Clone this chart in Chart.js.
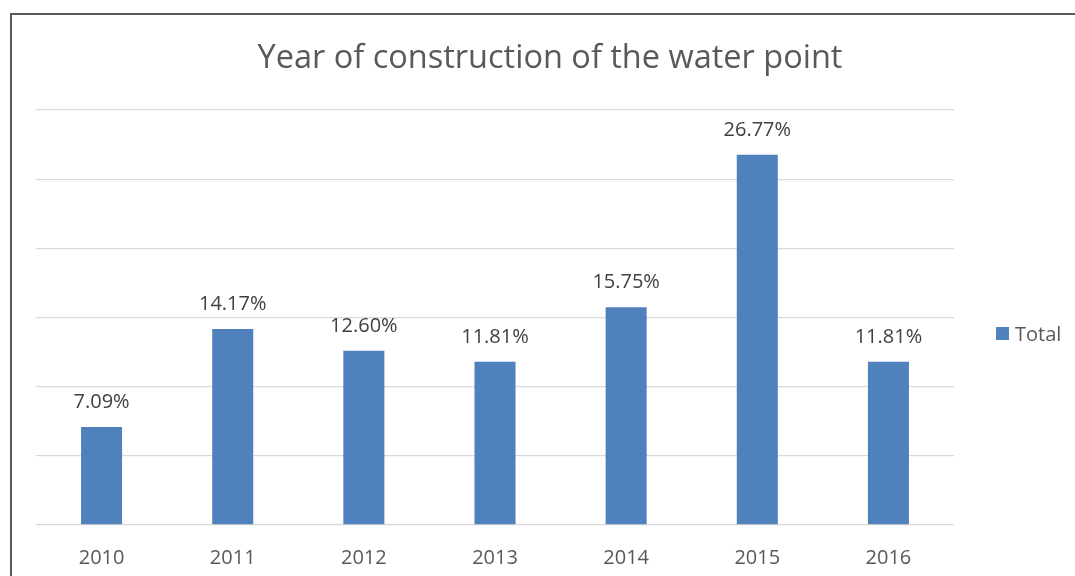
<!DOCTYPE html>
<html>
<head>
<meta charset="utf-8">
<script src="https://cdn.jsdelivr.net/npm/chart.js@4/dist/chart.umd.min.js"></script>
<style>
html,body{margin:0;padding:0;background:#fff;width:1075px;height:576px;overflow:hidden;}
#frame{position:absolute;left:10px;top:13px;width:1100px;height:600px;border-top:2px solid #595959;border-left:2px solid #595959;}
#wrap{position:absolute;left:12px;top:15px;width:1076px;height:561px;}
</style>
</head>
<body>
<div id="frame"></div>
<div id="wrap"><canvas id="c"></canvas></div>
<script>
const categories = ['2010','2011','2012','2013','2014','2015','2016'];
const totalValues = [7.09, 14.17, 12.60, 11.81, 15.75, 26.77, 11.81];
const seriesName = 'Total';
const chartTitle = 'Year of construction of the water point';
const yTicks = [0, 5, 10, 15, 20, 25, 30];

const FONT = "'Open Sans', sans-serif";
const BAR_COLOR = '#4F81BD';

const dataLabels = {
  id: 'dataLabels',
  afterDatasetsDraw(chart) {
    const ctx = chart.ctx;
    ctx.save();
    ctx.font = "20px " + FONT;
    ctx.fillStyle = '#404040';
    ctx.textAlign = 'center';
    ctx.textBaseline = 'alphabetic';
    chart.getDatasetMeta(0).data.forEach((bar, i) => {
      ctx.fillText(totalValues[i].toFixed(2) + '%', bar.x, bar.y - 19);
    });
    ctx.restore();
  }
};

const sideLegend = {
  id: 'sideLegend',
  afterDraw(chart) {
    const ctx = chart.ctx;
    const ds = chart.data.datasets[0];
    ctx.save();
    ctx.fillStyle = ds.backgroundColor;
    ctx.fillRect(984, 312, 13, 13);
    ctx.font = "20px " + FONT;
    ctx.fillStyle = '#595959';
    ctx.textAlign = 'left';
    ctx.textBaseline = 'alphabetic';
    ctx.fillText(ds.label, 1003, 326);
    ctx.restore();
  }
};

new Chart(document.getElementById('c'), {
  type: 'bar',
  data: {
    labels: categories,
    datasets: [{
      label: seriesName,
      data: totalValues,
      backgroundColor: BAR_COLOR,
      borderWidth: 0,
      barPercentage: 0.313,
      categoryPercentage: 1.0
    }]
  },
  options: {
    responsive: true,
    maintainAspectRatio: false,
    animation: false,
    events: [],
    layout: { padding: 0 },
    plugins: {
      legend: { display: false },
      tooltip: { enabled: false },
      title: {
        display: true,
        text: chartTitle,
        color: '#595959',
        font: { family: FONT, size: 32.5, weight: 'normal', lineHeight: 1.2 },
        padding: { top: 24, bottom: 32 }
      }
    },
    scales: {
      x: {
        grid: { display: false, drawTicks: false },
        border: { display: false },
        ticks: { color: '#595959', font: { family: FONT, size: 20 }, padding: 21 },
        afterFit(scale) { scale.height = 51; }
      },
      y: {
        position: 'left',
        min: yTicks[0],
        max: yTicks[yTicks.length - 1],
        afterBuildTicks(scale) { scale.ticks = yTicks.map(v => ({ value: v })); },
        grid: { color: '#D9D9D9', lineWidth: 1.3, drawTicks: false },
        border: { display: false },
        ticks: { display: false },
        afterFit(scale) { scale.width = 24; }
      },
      yRight: {
        position: 'right',
        display: true,
        min: 0,
        max: 1,
        grid: { display: false, drawTicks: false },
        border: { display: false },
        ticks: { display: false },
        afterFit(scale) { scale.width = 134; }
      }
    }
  },
  plugins: [dataLabels, sideLegend]
});
</script>
</body>
</html>
